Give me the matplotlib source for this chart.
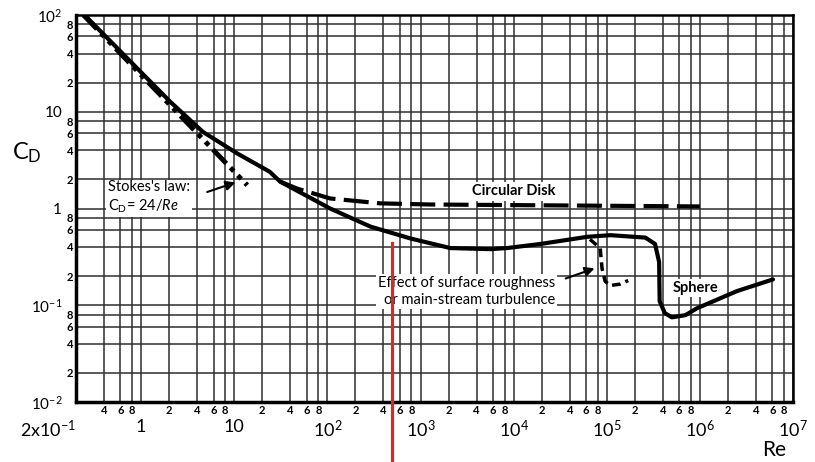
import matplotlib
matplotlib.use("Agg")
import matplotlib.pyplot as plt
from matplotlib.ticker import FixedLocator, FixedFormatter

plt.rcParams['font.family'] = ['Lato', 'DejaVu Sans']
plt.rcParams['mathtext.fontset'] = 'custom'
plt.rcParams['mathtext.rm'] = 'Lato'
plt.rcParams['mathtext.it'] = 'Lato:italic'
plt.rcParams['mathtext.bf'] = 'Lato:bold'

# Esfera (curva cheia)
esfera_re = [0.26, 2.05, 4.6, 10.8, 24, 31, 107, 290, 780, 2090, 5600, 8500,
             19400, 62000, 1.1e5, 2.6e5, 3.3e5, 3.65e5, 3.7e5, 4.2e5, 5.0e5,
             7.0e5, 9.3e5, 2.5e6, 6.1e6]
esfera_cd = [95, 12.7, 6.2, 3.7, 2.4, 1.9, 1.0, 0.65, 0.49, 0.39, 0.38, 0.39,
             0.43, 0.51, 0.53, 0.50, 0.43, 0.28, 0.11, 0.083, 0.075,
             0.079, 0.093, 0.14, 0.185]

# Disco circular (tracejado)
disco_re = [31, 47, 107, 370, 1270, 1.0e6]
disco_cd = [1.9, 1.61, 1.27, 1.13, 1.10, 1.05]

# Lei de Stokes (traço-ponto)
stokes_re = [0.24, 13.8]
stokes_cd = [100, 1.74]

# Rugosidade / turbulência (tracejado curto)
rugos_re = [6.6e4, 8.5e4, 8.9e4, 9.6e4, 1.09e5, 1.38e5, 1.7e5]
rugos_cd = [0.48, 0.39, 0.24, 0.177, 0.16, 0.165, 0.18]

# Linha vermelha
re_marca = 500
cd_marca = [0.44, 0.002]

# Ticks
x_maior = [0.2, 1, 10, 1e2, 1e3, 1e4, 1e5, 1e6, 1e7]
x_maior_txt = ['2x10$^{-1}$', '1', '10', '10$^2$', '10$^3$', '10$^4$',
               '10$^5$', '10$^6$', '10$^7$']
x_menor = [0.4, 0.6, 0.8] + [m * 10.0 ** k for k in range(0, 7) for m in (2, 4, 6, 8)]
x_menor_txt = ['4', '6', '8'] + ['2', '4', '6', '8'] * 7
y_maior = [1e-2, 1e-1, 1, 10, 1e2]
y_maior_txt = ['10$^{-2}$', '10$^{-1}$', '1', '10', '10$^2$']
y_menor = [m * 10.0 ** k for k in range(-2, 2) for m in (2, 4, 6, 8)]
y_menor_txt = ['2', '4', '6', '8'] * 4

fig = plt.figure(figsize=(8.15, 4.62), dpi=100)
ax = fig.add_axes([0.0933, 0.1299, 0.8797, 0.8376])
ax.set_xscale('log')
ax.set_yscale('log')
ax.set_xlim(0.2, 1e7)
ax.set_ylim(1e-2, 1e2)

ax.xaxis.set_major_locator(FixedLocator(x_maior))
ax.xaxis.set_major_formatter(FixedFormatter(x_maior_txt))
ax.xaxis.set_minor_locator(FixedLocator(x_menor))
ax.xaxis.set_minor_formatter(FixedFormatter(x_menor_txt))
ax.yaxis.set_major_locator(FixedLocator(y_maior))
ax.yaxis.set_major_formatter(FixedFormatter(y_maior_txt))
ax.yaxis.set_minor_locator(FixedLocator(y_menor))
ax.yaxis.set_minor_formatter(FixedFormatter(y_menor_txt))

ax.tick_params(axis='x', which='major', length=0, pad=12, labelsize=13)
ax.tick_params(axis='x', which='minor', length=0, pad=2, labelsize=8)
ax.tick_params(axis='y', which='major', length=0, pad=10, labelsize=11)
ax.tick_params(axis='y', which='minor', length=0, pad=2, labelsize=8)
for t in ax.get_xticklabels(which='minor') + ax.get_yticklabels(which='minor'):
    t.set_fontweight('bold')
ax.get_xticklabels()[0].set_ha('right')

ax.grid(which='both', color='#2e2e2e', lw=1.1)
for lado, esp in ax.spines.items():
    esp.set_linewidth(2.5 if lado in ('left', 'bottom') else 1.8)
    esp.set_zorder(5)

ax.plot(esfera_re, esfera_cd, color='black', lw=3, solid_capstyle='round', zorder=4)
ax.plot(disco_re, disco_cd, color='black', lw=3, dashes=(6, 2), zorder=4)
ax.plot(stokes_re, stokes_cd, color='black', lw=3.5,
        dashes=(4, 1.2, 1, 1.2, 1, 1.2), zorder=4)
ax.plot(rugos_re, rugos_cd, color='black', lw=2.5, dashes=(2.5, 1.5), zorder=4)

ax.plot([re_marca, re_marca], cd_marca, color='#d42a2a', lw=2.3, clip_on=False, zorder=6)

caixa = dict(facecolor='white', edgecolor='none', pad=1.5)
ax.text(0.44, 1.3, "Stokes's law:\nC$_\\mathrm{D}$= 24/$Re$", fontsize=10.5,
        ha='left', va='center', linespacing=1.25, bbox=caixa, zorder=3)
ax.annotate('', xy=(11, 1.9), xytext=(4.8, 1.45),
            arrowprops=dict(arrowstyle='-|>', color='black', lw=1.5,
                            mutation_scale=14), zorder=4)
ax.text(1.0e4, 1.5, 'Circular Disk', fontsize=10.5, fontweight='bold',
        ha='center', va='center', bbox=caixa, zorder=3)
ax.text(2.8e4, 0.139, 'Effect of surface roughness\nor main-stream turbulence',
        fontsize=10.5, ha='right', va='center', linespacing=1.3, bbox=caixa, zorder=3)
ax.annotate('', xy=(7.9e4, 0.246), xytext=(3.4e4, 0.185),
            arrowprops=dict(arrowstyle='-|>', color='black', lw=1.5,
                            mutation_scale=14), zorder=4)
ax.text(8.9e5, 0.15, 'Sphere', fontsize=10.5, fontweight='bold',
        ha='center', va='center', bbox=caixa, zorder=3)

fig.text(12 / 815, 1 - 153 / 462, 'C$_\\mathrm{D}$', fontsize=17, ha='left', va='center')
fig.text(762 / 815, 1 - 450 / 462, 'Re', fontsize=15, ha='left', va='center')

fig.savefig('out.png', dpi=100)
